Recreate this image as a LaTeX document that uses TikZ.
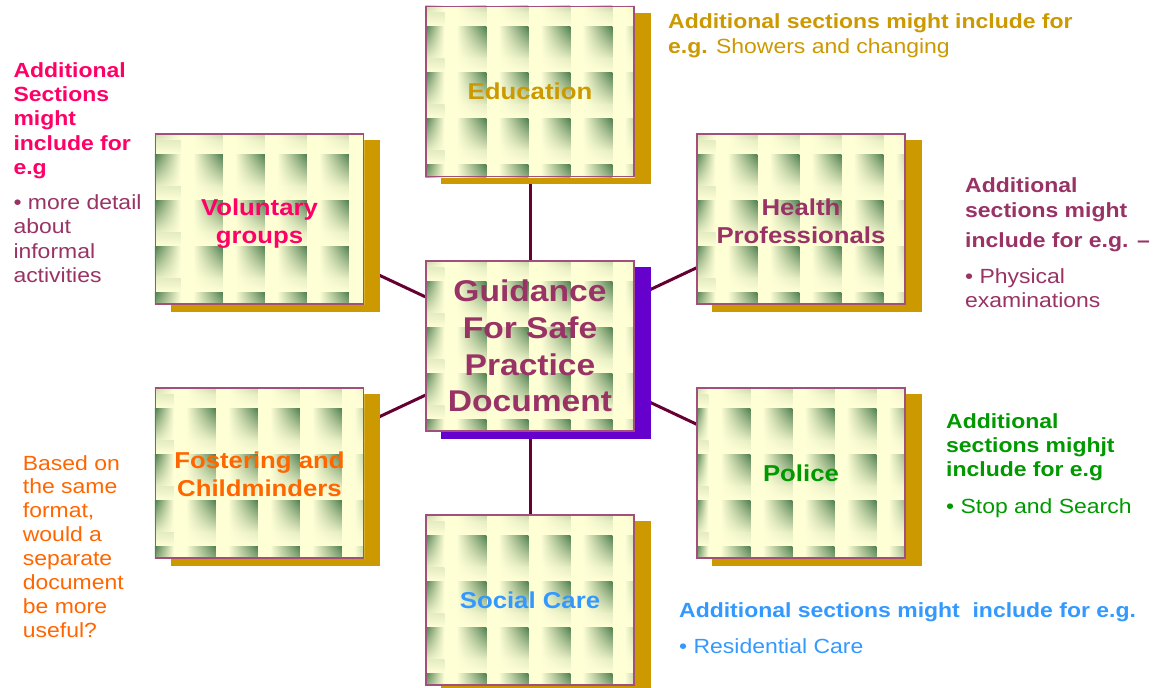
\documentclass[tikz,border=0pt]{standalone}
\usepackage{fontspec}
\setmainfont{Liberation Sans}[FakeStretch=1.12]
\usetikzlibrary{backgrounds,shadings}
\definecolor{gold}{HTML}{CC9900}
\definecolor{shpurple}{HTML}{6600CC}
\definecolor{pinkc}{HTML}{FF0066}
\definecolor{maroon}{HTML}{993366}
\definecolor{orangec}{HTML}{FF6600}
\definecolor{greenc}{HTML}{009900}
\definecolor{bluec}{HTML}{3399FF}
\definecolor{connc}{HTML}{660033}
\definecolor{tilelight}{HTML}{FFFFD6}
\definecolor{tiledark}{HTML}{4F7F4F}
\colorlet{tilesoft}{tilelight!85!tiledark}
\definecolor{boxborder}{HTML}{A0507A}
% tiled texture of a box: #1 node name, #2 offset of first column
\newcommand\tilegrid[2]{%
  \begin{scope}
    \clip (#1.north west) rectangle (#1.south east);
    \begin{scope}[shift={(#1.north west)}]
      \fill[tilelight] (0,0) rectangle (220,180);
      \foreach \j in {-1,...,3}{
        \shade[upper left=tiledark, upper right=tilelight, lower left=tilesoft, lower right=tilelight]
          (0,{21+46*\j}) rectangle ({#2},{53+46*\j});
        \shade[top color=tilesoft, bottom color=tilelight]
          (0,{53+46*\j}) rectangle ({#2},{67+46*\j});
        \foreach \i in {0,...,4}{
          \shade[upper left=tilelight, upper right=tiledark, lower left=tilelight, lower right=tilesoft]
            ({#2+12+42*\i},{21+46*\j}) rectangle ({#2+42+42*\i},{53+46*\j});
          \shade[upper left=tilelight, upper right=tilesoft, lower left=tilelight, lower right=tilelight]
            ({#2+12+42*\i},{53+46*\j}) rectangle ({#2+42+42*\i},{67+46*\j});
        }
      }
    \end{scope}
  \end{scope}}
\tikzset{
  box/.style={draw=boxborder, line width=1.2pt, minimum width=208pt, minimum height=170pt,
    inner sep=0pt, align=center, font=\bfseries\fontsize{23}{28}\selectfont},
  conn/.style={draw=connc, line width=3pt},
  note/.style={anchor=base west, inner sep=0pt, font=\fontsize{20.5}{24.4}\selectfont},
}
\begin{document}
\begin{tikzpicture}[x=1pt,y=-1pt]
\useasboundingbox (0,0) rectangle (1160,688);
% boxes
\node[box, text=maroon, font=\bfseries\fontsize{30}{36.7}\selectfont] (center) at (530,346) {Guidance\\For Safe\\Practice\\Document};
\node[box, text=gold] (edu) at (530,91.5) {Education};
\node[box, text=pinkc] (vol) at (259.5,219) {\rule{0pt}{26pt}Voluntary\\groups};
\node[box, text=maroon] (health) at (801,219) {\rule{0pt}{21pt}Health\\Professionals};
\node[box, text=orangec] (foster) at (259.5,473) {\rule{0pt}{20pt}Fostering and\\Childminders};
\node[box, text=greenc] (police) at (801,473) {Police};
\node[box, text=bluec] (social) at (530,600) {Social Care};
% connectors, shadows and tile textures, beneath the boxes
\begin{pgfonlayer}{background}
  \fill[white] (0,0) rectangle (1160,688);
  \draw[conn] (center) -- (edu);
  \draw[conn] (center) -- (social);
  \draw[conn] (center) -- (vol);
  \draw[conn] (center) -- (foster);
  \draw[conn] (center) -- (health);
  \draw[conn] (center) -- (police);
  \foreach \n in {edu,vol,health,foster,police,social}
    \fill[gold] ([shift={(16pt,-7pt)}]\n.north west) rectangle ([shift={(16pt,-7pt)}]\n.south east);
  \fill[shpurple] ([shift={(16pt,-7pt)}]center.north west) rectangle ([shift={(16pt,-7pt)}]center.south east);
  \tilegrid{center}{19}
  \tilegrid{edu}{19}
  \tilegrid{vol}{26}
  \tilegrid{health}{19}
  \tilegrid{foster}{19}
  \tilegrid{police}{12}
  \tilegrid{social}{19}
\end{pgfonlayer}
% notes
\node[note, text=gold] (nedu) at (668,28.3) {\begin{tabular}[t]{@{}l@{}}\textbf{Additional sections might include for}\\[0.6pt]
  \textbf{e.g.}\ \hspace{2pt}Showers and changing\end{tabular}};
\node[note, text=pinkc] (nvol) at (13.3,77) {\begin{tabular}[t]{@{}l@{}}\textbf{Additional}\\ \textbf{Sections}\\ \textbf{might}\\ \textbf{include for}\\ \textbf{e.g}\\[10.6pt]
  \textcolor{maroon}{• more detail}\\ \textcolor{maroon}{about}\\ \textcolor{maroon}{informal}\\ \textcolor{maroon}{activities}\end{tabular}};
\node[note, text=maroon] (nhealth) at (965,192.7) {\begin{tabular}[t]{@{}l@{}}\textbf{Additional}\\ \textbf{sections might}\\[5.6pt]
  \textbf{include for e.g. –}\\[11.9pt] • Physical\\ examinations\end{tabular}};
\node[note, text=greenc] (npolice) at (946,428) {\begin{tabular}[t]{@{}l@{}}\textbf{Additional}\\ \textbf{sections mighjt}\\ \textbf{include for e.g}\\[11.9pt] • Stop and Search\end{tabular}};
\node[note, text=orangec, font=\fontsize{20.5}{23.9}\selectfont] (nfoster) at (22.7,470) {\begin{tabular}[t]{@{}l@{}}Based on\\ the same\\ format,\\ would a\\ separate\\ document\\ be more\\ useful?\end{tabular}};
\node[note, text=bluec] (nsocial) at (679,617) {\begin{tabular}[t]{@{}l@{}}\textbf{Additional sections might\ \ include for e.g.}\\[11.7pt] • Residential Care\end{tabular}};
\end{tikzpicture}
\end{document}
